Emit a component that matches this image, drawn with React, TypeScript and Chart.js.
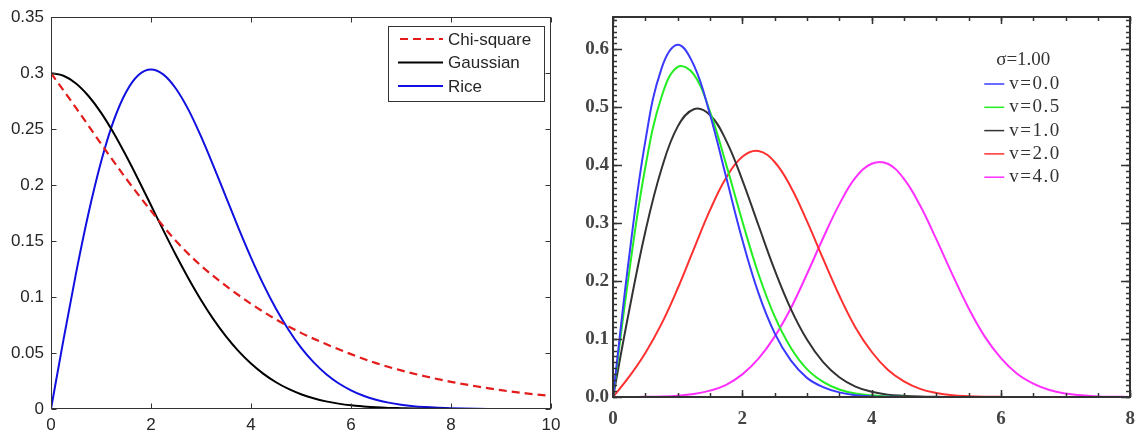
import React, { useEffect, useRef } from "react";
import { Chart, registerables } from "chart.js";

Chart.register(...registerables);

// ---------- Left chart data ----------
const chiX = [0, 0.5, 1, 1.5, 2, 2.5, 3, 3.5, 4, 4.5, 5, 5.5, 6, 6.5, 7, 7.5, 8, 8.5, 9, 9.5, 10];
const chiSquare = [0.300, 0.269, 0.237, 0.206, 0.177, 0.150, 0.128, 0.110, 0.094, 0.080, 0.068, 0.058, 0.049, 0.041, 0.0345, 0.029, 0.0243, 0.0203, 0.0168, 0.014, 0.0116];
const fineX = [0, 0.25, 0.5, 0.75, 1, 1.25, 1.5, 1.75, 2, 2.25, 2.5, 2.75, 3, 3.25, 3.5, 3.75, 4, 4.25, 4.5, 4.75, 5, 5.25, 5.5, 5.75, 6, 6.25, 6.5, 6.75, 7, 7.25, 7.5, 7.75, 8, 8.25, 8.5, 8.75, 9, 9.25, 9.5, 9.75, 10];
const gaussian = [0.300, 0.2977, 0.2908, 0.2796, 0.2648, 0.2468, 0.2264, 0.2046, 0.182, 0.1593, 0.1373, 0.1166, 0.0974, 0.0801, 0.0649, 0.0517, 0.0406, 0.0314, 0.0239, 0.0179, 0.0132, 0.0096, 0.0068, 0.0048, 0.0033, 0.0023, 0.0015, 0.001, 0.0007, 0.0004, 0.0003, 0.0002, 0.0001, 0, 0, 0, 0, 0, 0, 0, 0];
const rice = [0, 0.062, 0.1212, 0.1748, 0.2206, 0.2571, 0.283, 0.2984, 0.3033, 0.2987, 0.2861, 0.2672, 0.2435, 0.217, 0.1893, 0.1616, 0.1353, 0.1111, 0.0895, 0.0708, 0.0549, 0.0419, 0.0313, 0.023, 0.0167, 0.0118, 0.0083, 0.0057, 0.0038, 0.0025, 0.0017, 0.0011, 0.0007, 0.0004, 0.0002, 0.0001, 0.0001, 0, 0, 0, 0];
const leftLabels = ["Chi-square", "Gaussian", "Rice"];
const leftXTicks = [0, 2, 4, 6, 8, 10];
const leftXTickLabels = ["0", "2", "4", "6", "8", "10"];
const leftYTicks = [0, 0.05, 0.1, 0.15, 0.2, 0.25, 0.3, 0.35];
const leftYTickLabels = ["0", "0.05", "0.1", "0.15", "0.2", "0.25", "0.3", "0.35"];

// ---------- Right chart data ----------
const rightX = [0, 0.25, 0.5, 0.75, 1, 1.25, 1.5, 1.75, 2, 2.25, 2.5, 2.75, 3, 3.25, 3.5, 3.75, 4, 4.25, 4.5, 4.75, 5, 5.25, 5.5, 5.75, 6, 6.25, 6.5, 6.75, 7, 7.25, 7.5, 7.75, 8];
const riceNu00 = [0, 0.242, 0.441, 0.566, 0.607, 0.572, 0.487, 0.379, 0.271, 0.179, 0.110, 0.063, 0.033, 0.017, 0.008, 0.003, 0.001, 0.0005, 0.0002, 0, 0, 0, 0, 0, 0, 0, 0, 0, 0, 0, 0, 0, 0];
const riceNu05 = [0, 0.215, 0.396, 0.517, 0.569, 0.556, 0.492, 0.401, 0.303, 0.212, 0.139, 0.085, 0.048, 0.026, 0.013, 0.006, 0.003, 0.001, 0.0004, 0, 0, 0, 0, 0, 0, 0, 0, 0, 0, 0, 0, 0, 0];
const riceNu10 = [0, 0.149, 0.285, 0.393, 0.466, 0.496, 0.486, 0.442, 0.374, 0.296, 0.219, 0.152, 0.099, 0.060, 0.034, 0.018, 0.009, 0.004, 0.002, 0.0008, 0.0003, 0, 0, 0, 0, 0, 0, 0, 0, 0, 0, 0, 0];
const riceNu20 = [0, 0.035, 0.076, 0.126, 0.187, 0.255, 0.322, 0.378, 0.414, 0.424, 0.405, 0.362, 0.303, 0.238, 0.175, 0.120, 0.078, 0.047, 0.027, 0.014, 0.007, 0.003, 0.0015, 0.0006, 0.0002, 0.0001, 0, 0, 0, 0, 0, 0, 0];
const riceNu40 = [0, 0.0001, 0.0003, 0.0009, 0.0023, 0.0052, 0.011, 0.021, 0.039, 0.066, 0.104, 0.153, 0.212, 0.274, 0.332, 0.378, 0.402, 0.402, 0.376, 0.330, 0.272, 0.211, 0.153, 0.104, 0.067, 0.040, 0.023, 0.012, 0.006, 0.003, 0.001, 0.0005, 0.0002];
const rightLabels = ["v=0.0", "v=0.5", "v=1.0", "v=2.0", "v=4.0"];
const rightLegendTitle = "σ=1.00";
const rightXTicks = [0, 2, 4, 6, 8];
const rightXTickLabels = ["0", "2", "4", "6", "8"];
const rightYTicks = [0, 0.1, 0.2, 0.3, 0.4, 0.5, 0.6];
const rightYTickLabels = ["0.0", "0.1", "0.2", "0.3", "0.4", "0.5", "0.6"];

const toPoints = (xs: number[], ys: number[]) => xs.map((x, i) => ({ x, y: ys[i] }));

const SANS = "'Liberation Sans', Arial, sans-serif";
const SERIF = "'Liberation Serif', 'Times New Roman', serif";

type FrameOpts = {
  color: string;
  width: number;
  xMajor: number[];
  yMajor: number[];
  majorLen: number;
  xMinorStep?: number;
  yMinorStep?: number;
  minorLen?: number;
  xMajorLen?: number;
};

function framePlugin(o: FrameOpts) {
  return {
    id: "frame",
    afterDatasetsDraw(chart: any) {
      const { ctx, chartArea: a, scales } = chart;
      const xs = scales.x, ys = scales.y;
      ctx.save();
      ctx.strokeStyle = o.color;
      const off = o.width % 2 === 1 ? 0.5 : 0;
      const L = Math.round(a.left) + off, R = Math.round(a.right) - off, T = Math.round(a.top) + off, B = Math.round(a.bottom) - off;
      const line = (x1: number, y1: number, x2: number, y2: number) => {
        ctx.beginPath(); ctx.moveTo(x1, y1); ctx.lineTo(x2, y2); ctx.stroke();
      };
      ctx.lineWidth = o.width > 1 ? 1.5 : 1;
      const xTick = (v: number, len: number) => {
        const px = Math.round(xs.getPixelForValue(v)) + 0.5;
        line(px, B, px, B - len);
        line(px, T, px, T + len);
      };
      const yTick = (v: number, len: number) => {
        const py = Math.round(ys.getPixelForValue(v)) + 0.5;
        line(L, py, L + len, py);
        line(R, py, R - len, py);
      };
      if (o.xMinorStep) {
        for (let v = xs.min; v <= xs.max + 1e-9; v += o.xMinorStep) xTick(v, o.minorLen || 3);
      }
      if (o.yMinorStep) {
        for (let v = ys.min; v <= ys.max + 1e-9; v += o.yMinorStep) yTick(v, o.minorLen || 3);
      }
      o.xMajor.forEach((v) => xTick(v, o.xMajorLen || o.majorLen));
      o.yMajor.forEach((v) => yTick(v, o.majorLen));
      ctx.lineWidth = o.width;
      ctx.strokeRect(L, T, R - L, B - T);
      ctx.restore();
    },
  };
}

const leftLegendPlugin = {
  id: "leftLegend",
  afterDraw(chart: any) {
    const { ctx, chartArea: a } = chart;
    const bx = Math.round(a.right) - 163, by = Math.round(a.top) + 9, bw = 156, bh = 75;
    ctx.save();
    ctx.fillStyle = "#ffffff";
    ctx.fillRect(bx, by, bw, bh);
    ctx.strokeStyle = "#333333";
    ctx.lineWidth = 1;
    ctx.strokeRect(bx + 0.5, by + 0.5, bw, bh);
    chart.data.datasets.forEach((ds: any, i: number) => {
      const y = by + 13 + i * 23.5;
      ctx.strokeStyle = ds.borderColor;
      ctx.lineWidth = 2;
      ctx.setLineDash(ds.borderDash || []);
      ctx.beginPath();
      ctx.moveTo(bx + (ds.borderDash ? 12 : 10), y);
      ctx.lineTo(bx + 55, y);
      ctx.stroke();
      ctx.setLineDash([]);
      ctx.fillStyle = "#262626";
      ctx.font = `17px ${SANS}`;
      ctx.textBaseline = "middle";
      ctx.textAlign = "left";
      ctx.fillText(ds.label, bx + 60, y + 1);
    });
    ctx.restore();
  },
};

const rightLegendPlugin = {
  id: "rightLegend",
  afterDraw(chart: any) {
    const { ctx, chartArea: a } = chart;
    const r = a.right, t = a.top;
    ctx.save();
    ctx.fillStyle = "#333333";
    ctx.font = `19px ${SERIF}`;
    ctx.textBaseline = "middle";
    ctx.textAlign = "center";
    ctx.fillText(rightLegendTitle, r - 107, t + 43);
    ctx.textAlign = "left";
    try { (ctx as any).letterSpacing = "1.5px"; } catch (e) { /* ignore */ }
    chart.data.datasets.forEach((ds: any, i: number) => {
      const y = t + 67 + i * 23.3;
      ctx.strokeStyle = ds.borderColor;
      ctx.lineWidth = 1.5;
      ctx.beginPath();
      ctx.moveTo(r - 146, y);
      ctx.lineTo(r - 126, y);
      ctx.stroke();
      ctx.fillStyle = "#333333";
      ctx.fillText(ds.label, r - 121, y);
    });
    ctx.restore();
  },
};

function LeftChart() {
  const ref = useRef<HTMLCanvasElement | null>(null);
  useEffect(() => {
    if (!ref.current) return;
    const colors = ["#e31b1b", "#000000", "#1010e0"];
    const series = [toPoints(chiX, chiSquare), toPoints(fineX, gaussian), toPoints(fineX, rice)];
    const chart = new Chart(ref.current, {
      type: "line",
      data: {
        datasets: series.map((s, i) => ({
          label: leftLabels[i],
          data: s,
          borderColor: colors[i],
          backgroundColor: colors[i],
          borderWidth: 2,
          pointRadius: 0,
          cubicInterpolationMode: "monotone",
          fill: false,
          ...(i === 0 ? { borderDash: [8, 5], borderWidth: 2.2 } : {}),
        })),
      },
      options: {
        animation: false,
        responsive: false,
        layout: { padding: { top: 17, right: 24, left: 0, bottom: 0 } },
        plugins: { legend: { display: false }, tooltip: { enabled: false } },
        scales: {
          x: {
            type: "linear",
            min: 0,
            max: 10,
            grid: { display: false, drawTicks: false },
            border: { display: false },
            afterBuildTicks: (s: any) => { s.ticks = leftXTicks.map((v) => ({ value: v })); },
            afterFit: (s: any) => { s.height = 24; },
            ticks: {
              autoSkip: false,
              maxRotation: 0,
              padding: 6,
              color: "#262626",
              font: { family: SANS, size: 17 },
              callback: (_v: any, i: number) => leftXTickLabels[i],
            },
          },
          y: {
            type: "linear",
            min: 0,
            max: 0.35,
            grid: { display: false, drawTicks: false },
            border: { display: false },
            afterBuildTicks: (s: any) => { s.ticks = leftYTicks.map((v) => ({ value: v })); },
            afterFit: (s: any) => { s.width = 51; },
            ticks: {
              autoSkip: false,
              padding: 7,
              color: "#262626",
              font: { family: SANS, size: 17 },
              callback: (_v: any, i: number) => leftYTickLabels[i],
            },
          },
        },
      } as any,
      plugins: [
        framePlugin({ color: "#333333", width: 1, xMajor: leftXTicks, yMajor: leftYTicks, majorLen: 5 }),
        leftLegendPlugin,
      ],
    });
    return () => chart.destroy();
  }, []);
  return <canvas ref={ref} width={575} height={433} style={{ position: "absolute", left: 0, top: 0 }} />;
}

function RightChart() {
  const ref = useRef<HTMLCanvasElement | null>(null);
  useEffect(() => {
    if (!ref.current) return;
    const colors = ["#3a3aff", "#22ee22", "#333333", "#ff3030", "#ff30ff"];
    const series = [riceNu00, riceNu05, riceNu10, riceNu20, riceNu40];
    const chart = new Chart(ref.current, {
      type: "line",
      data: {
        datasets: series.map((s, i) => ({
          label: rightLabels[i],
          data: toPoints(rightX, s),
          borderColor: colors[i],
          backgroundColor: colors[i],
          borderWidth: 2,
          pointRadius: 0,
          tension: 0.4,
          fill: false,
        })),
      },
      options: {
        animation: false,
        responsive: false,
        layout: { padding: { top: 17, right: 8, left: 0, bottom: 0 } },
        plugins: { legend: { display: false }, tooltip: { enabled: false } },
        scales: {
          x: {
            type: "linear",
            min: 0,
            max: 8,
            grid: { display: false, drawTicks: false },
            border: { display: false },
            afterBuildTicks: (s: any) => { s.ticks = rightXTicks.map((v) => ({ value: v })); },
            afterFit: (s: any) => { s.height = 36; },
            ticks: {
              autoSkip: false,
              maxRotation: 0,
              padding: 11,
              color: "#444444",
              font: { family: SERIF, size: 19, weight: "bold" },
              callback: (_v: any, i: number) => rightXTickLabels[i],
            },
          },
          y: {
            type: "linear",
            min: 0,
            max: 0.655,
            grid: { display: false, drawTicks: false },
            border: { display: false },
            afterBuildTicks: (s: any) => { s.ticks = rightYTicks.map((v) => ({ value: v })); },
            afterFit: (s: any) => { s.width = 48; },
            ticks: {
              autoSkip: false,
              padding: 4,
              color: "#444444",
              font: { family: SERIF, size: 19, weight: "bold" },
              callback: (_v: any, i: number) => rightYTickLabels[i],
            },
          },
        },
      } as any,
      plugins: [
        framePlugin({
          color: "#333333",
          width: 2,
          xMajor: rightXTicks,
          yMajor: rightYTicks,
          majorLen: 9,
          xMajorLen: 7,
          xMinorStep: 0.5,
          yMinorStep: 0.01,
          minorLen: 4,
        }),
        rightLegendPlugin,
      ],
    });
    return () => chart.destroy();
  }, []);
  return <canvas ref={ref} width={581} height={433} style={{ position: "absolute", left: 565, top: 0 }} />;
}

export default function App() {
  return (
    <div style={{ position: "relative", width: 1146, height: 433, background: "#ffffff" }}>
      <style>{`body{margin:0;background:#fff}`}</style>
      <LeftChart />
      <RightChart />
    </div>
  );
}
